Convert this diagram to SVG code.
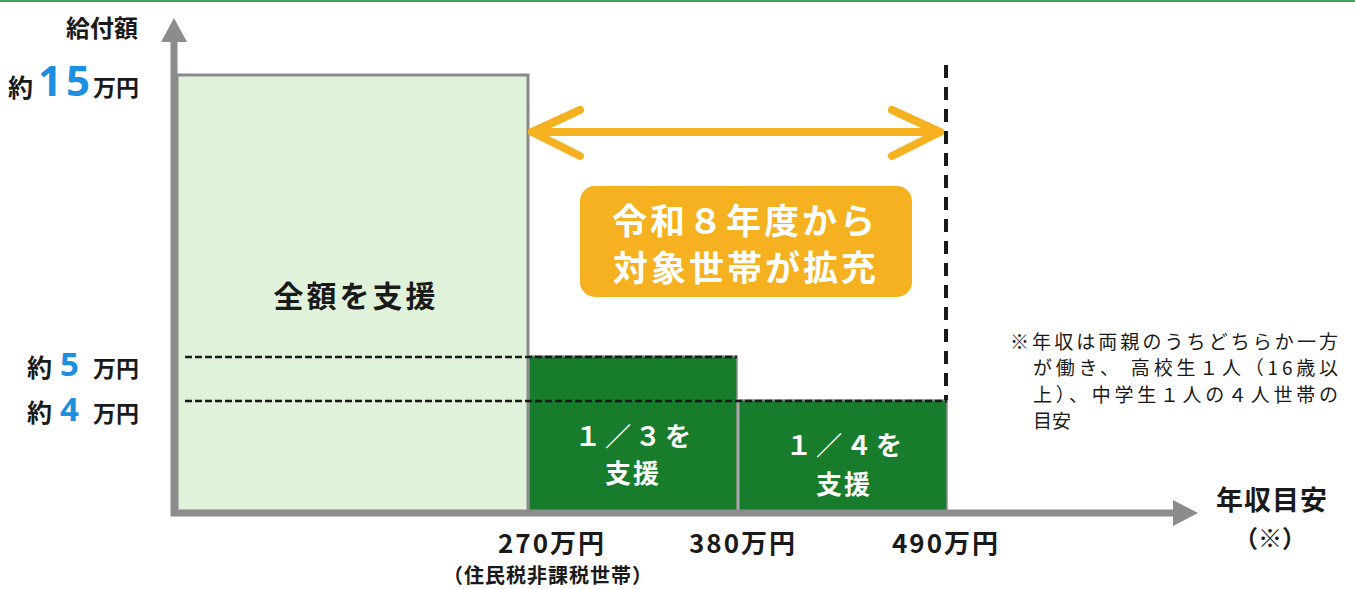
<svg xmlns="http://www.w3.org/2000/svg" width="1355" height="589" viewBox="0 0 1355 589">
<style>
  .jp { font-family: "Noto Sans CJK JP", "Noto Sans", sans-serif; }
  .lbl { font-family: "Noto Sans CJK JP", sans-serif; font-weight: bold; fill: #1a1a1a; }
  .blue { font-family: "Noto Sans", "Liberation Sans", sans-serif; fill: #1e8fe0; }
  .white { font-family: "Noto Sans CJK JP", sans-serif; font-weight: bold; fill: #ffffff; }
  .dash { stroke: #1a1a1a; stroke-width: 2.5; stroke-dasharray: 7 3; fill: none; }
  .axis { stroke: #8c8c8c; stroke-width: 7; fill: none; }
  .orange { stroke: #f5b120; stroke-width: 8; stroke-linecap: round; stroke-linejoin: round; fill: none; }
  .note { font-family: "Noto Sans CJK JP", sans-serif; font-size: 19px; fill: #1a1a1a; }
</style>
<rect x="0" y="0" width="1355" height="589" fill="#ffffff"/>
<rect x="0" y="0" width="1355" height="2" fill="#3fa55a"/>

<g id="full-support">
  <rect x="177" y="75" width="351" height="438" fill="#e0f2da" stroke="#8a8a8a" stroke-width="3"/>
  <text class="lbl" x="356" y="307" font-size="30" text-anchor="middle" letter-spacing="3">全額を支援</text>
</g>

<g id="third-support">
  <rect x="529" y="356" width="208" height="157" fill="#177c2b" stroke="#8e8e8e" stroke-width="1.5"/>
  <text class="white" x="635" y="446" font-size="26" text-anchor="middle" letter-spacing="4">１／３を</text>
  <text class="white" x="633" y="483" font-size="26" text-anchor="middle" letter-spacing="2">支援</text>
</g>

<g id="quarter-support">
  <rect x="739" y="400" width="208" height="113" fill="#177c2b" stroke="#8e8e8e" stroke-width="1.5"/>
  <text class="white" x="846" y="455" font-size="26" text-anchor="middle" letter-spacing="4">１／４を</text>
  <text class="white" x="844" y="494" font-size="26" text-anchor="middle" letter-spacing="2">支援</text>
</g>

<g id="expansion-box">
  <rect x="580" y="186" width="332" height="111" rx="15" fill="#f5b120"/>
  <text class="white" x="745" y="234" font-size="35" text-anchor="middle" letter-spacing="3">令和８年度から</text>
  <text class="white" x="746" y="281" font-size="35" text-anchor="middle" letter-spacing="3">対象世帯が拡充</text>
</g>

<g id="connectors">
  <line class="dash" x1="185" y1="357" x2="737" y2="357"/>
  <line class="dash" x1="185" y1="401" x2="947" y2="401"/>
  <line x1="946" y1="65" x2="946" y2="400" stroke="#1a1a1a" stroke-width="4" stroke-dasharray="13 9"/>
  <line class="axis" x1="174" y1="40" x2="174" y2="516"/>
  <polygon points="161,42 187,42 174,18" fill="#8c8c8c"/>
  <line class="axis" x1="171" y1="513" x2="1175" y2="513"/>
  <polygon points="1173,500 1173,526 1198,513" fill="#8c8c8c"/>
  <line class="orange" x1="532" y1="132" x2="940" y2="132"/>
  <polyline class="orange" points="580,110 532,132 580,156"/>
  <polyline class="orange" points="892,110 940,132 892,156"/>
</g>

<g id="y-labels">
  <text class="lbl" x="138" y="37" font-size="24" text-anchor="end">給付額</text>
  <text class="lbl" x="8" y="97" font-size="25">約</text>
  <text class="blue" x="38" y="96" font-size="42" font-weight="bold" letter-spacing="4">15</text>
  <text class="lbl" x="93" y="96" font-size="23">万円</text>
  <text class="lbl" x="27" y="377" font-size="25">約</text>
  <text class="blue" x="60" y="376" font-size="33" font-weight="bold">5</text>
  <text class="lbl" x="93" y="377" font-size="23">万円</text>
  <text class="lbl" x="27" y="422" font-size="25">約</text>
  <text class="blue" x="60" y="421" font-size="33" font-weight="bold">4</text>
  <text class="lbl" x="93" y="422" font-size="23">万円</text>
</g>

<g id="x-labels">
  <text class="lbl" x="552" y="553" font-size="26" text-anchor="middle" letter-spacing="2">270万円</text>
  <text class="lbl" x="548" y="583" font-size="20" text-anchor="middle" letter-spacing="1">（住民税非課税世帯）</text>
  <text class="lbl" x="743" y="553" font-size="26" text-anchor="middle" letter-spacing="2">380万円</text>
  <text class="lbl" x="946" y="553" font-size="26" text-anchor="middle" letter-spacing="2">490万円</text>
  <text class="lbl" x="1272" y="510" font-size="27" text-anchor="middle" letter-spacing="1">年収目安</text>
  <text class="lbl" x="1270" y="547" font-size="24" text-anchor="middle">（※）</text>
</g>

<g id="note">
  <text class="note" x="1010" y="349" textLength="328">※年収は両親のうちどちらか一方</text>
  <text class="note" x="1033" y="375" textLength="305">が働き、 高校生１人（16歳以</text>
  <text class="note" x="1033" y="402" textLength="305">上）、中学生１人の４人世帯の</text>
  <text class="note" x="1033" y="428">目安</text>
</g>
</svg>
